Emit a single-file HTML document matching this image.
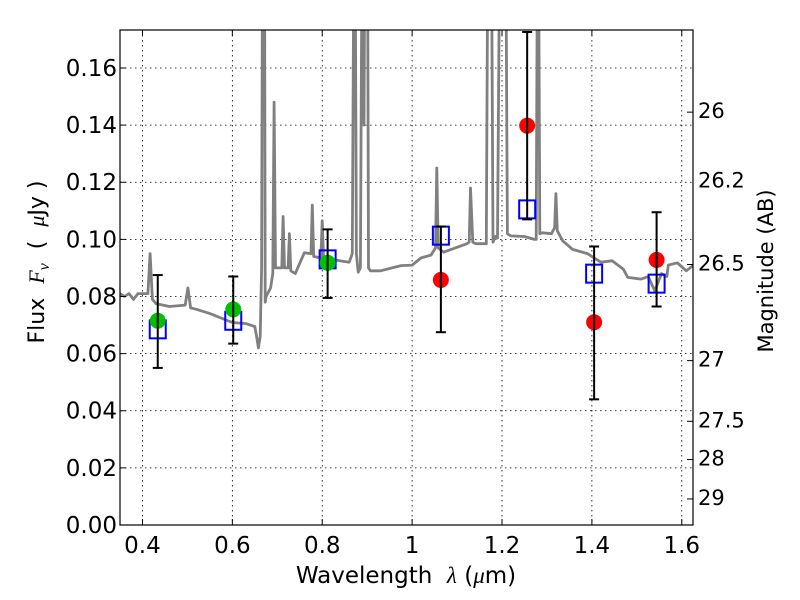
<!DOCTYPE html>
<html><head><meta charset="utf-8"><style>
body{margin:0;background:#fff}
svg{display:block;font-family:"DejaVu Sans","Liberation Sans",sans-serif}
</style></head><body>
<svg id="chart" width="800" height="600" xmlns="http://www.w3.org/2000/svg">
<defs><clipPath id="clip"><rect x="120" y="30" width="573" height="495"/></clipPath></defs>
<g id="grid"></g>
<g id="spec" clip-path="url(#clip)"></g>
<g id="marks"></g>
<rect x="120" y="30" width="573" height="495" fill="none" stroke="#000" stroke-width="1.2"/>
<g id="axes"></g>
<text x="406" y="583" font-size="23" text-anchor="middle" xml:space="preserve">Wavelength  <tspan font-family="Liberation Serif" font-style="italic">λ</tspan> (<tspan font-family="Liberation Serif" font-style="italic">μ</tspan>m)</text>
<text transform="translate(44,262) rotate(-90)" font-size="22" text-anchor="middle" xml:space="preserve">Flux  <tspan font-family="Liberation Serif" font-style="italic">F</tspan><tspan font-family="Liberation Serif" font-style="italic" font-size="16" dy="5">ν</tspan><tspan dy="-5">  (  </tspan><tspan font-family="Liberation Serif" font-style="italic">μ</tspan>Jy )</text>
<text transform="translate(773,271) rotate(-90)" font-size="21" text-anchor="middle">Magnitude (AB)</text>
</svg>
<script>
const xTicks=[0.4,0.6,0.8,1,1.2,1.4,1.6];
const xTickLabels=["0.4","0.6","0.8","1","1.2","1.4","1.6"];
const yTicks=[0,0.02,0.04,0.06,0.08,0.10,0.12,0.14,0.16];
const yTickLabels=["0.00","0.02","0.04","0.06","0.08","0.10","0.12","0.14","0.16"];
const magTicks=[26,26.5,27,27.5,28,29];
const magTickLabels=["26","26.2","26.5","27","27.5","28","29"];
const magLabelVals=[26,26.2,26.5,27,27.5,28,29];
const specWave=[0.35,0.36,0.37,0.38,0.39,0.40,0.412,0.417,0.422,0.43,0.46,0.495,0.501,0.507,0.52,0.55,0.60,0.63,0.65,0.654,0.658,0.662,0.665,0.668,0.671,0.673,0.675,0.685,0.69,0.693,0.696,0.70,0.71,0.713,0.716,0.724,0.727,0.73,0.74,0.76,0.775,0.778,0.781,0.797,0.80,0.803,0.82,0.86,0.867,0.872,0.876,0.88,0.885,0.89,0.893,0.896,0.90,0.903,0.907,0.93,0.975,1.0,1.02,1.042,1.052,1.055,1.058,1.07,1.122,1.127,1.13,1.135,1.142,1.165,1.17,1.175,1.18,1.185,1.19,1.197,1.202,1.207,1.212,1.22,1.25,1.272,1.276,1.28,1.284,1.29,1.31,1.317,1.32,1.323,1.335,1.357,1.39,1.42,1.445,1.47,1.48,1.51,1.525,1.54,1.555,1.567,1.57,1.59,1.61,1.625];
const specFlux=[0.081,0.080,0.081,0.079,0.081,0.081,0.081,0.095,0.079,0.0775,0.0765,0.077,0.083,0.076,0.0755,0.074,0.0709,0.0705,0.0695,0.066,0.062,0.066,0.09,0.25,0.25,0.078,0.080,0.083,0.088,0.148,0.09,0.090,0.090,0.108,0.09,0.09,0.102,0.089,0.088,0.0953,0.095,0.112,0.094,0.0935,0.1065,0.093,0.093,0.092,0.095,0.25,0.095,0.0885,0.09,0.25,0.14,0.25,0.25,0.09,0.089,0.089,0.0908,0.091,0.0935,0.0945,0.097,0.125,0.097,0.0955,0.0985,0.099,0.118,0.099,0.0985,0.0985,0.25,0.25,0.099,0.101,0.1005,0.25,0.25,0.25,0.102,0.1012,0.101,0.100,0.100,0.25,0.102,0.1023,0.102,0.104,0.116,0.103,0.0995,0.0965,0.095,0.092,0.0925,0.0896,0.0867,0.0861,0.087,0.082,0.088,0.087,0.091,0.0918,0.089,0.0908];
const filtWave=[0.434,0.602,0.812,1.064,1.256,1.405,1.544];
const modelFlux=[0.0685,0.0715,0.0930,0.1013,0.1105,0.0880,0.0845];
const obsFlux=[0.0715,0.0755,0.0918,0.0858,0.1398,0.0710,0.0928];
const errLow=[0.055,0.0635,0.0795,0.0675,0.107,0.044,0.0765];
const errHigh=[0.0875,0.087,0.1035,0.1045,0.175,0.0975,0.1095];
const obsColor=["#00c000","#00c000","#00c000","#ff0000","#ff0000","#ff0000","#ff0000"];

const X0=120,X1=693,Y0=525,Y1=30,XMIN=0.35,XMAX=1.625,YMAX=0.1733;
const sx=v=>X0+(v-XMIN)/(XMAX-XMIN)*(X1-X0);
const sy=v=>Y0-v/YMAX*(Y0-Y1);
const magToFlux=m=>Math.pow(10,(23.9-m)/2.5);
const NS="http://www.w3.org/2000/svg";
function mk(tag,attrs,parent){const e=document.createElementNS(NS,tag);for(const k in attrs)e.setAttribute(k,attrs[k]);parent.appendChild(e);return e;}
const grid=document.getElementById('grid'),axes=document.getElementById('axes'),spec=document.getElementById('spec'),marks=document.getElementById('marks');
xTicks.forEach((t,i)=>{
 const g=mk('line',{x1:sx(t),x2:sx(t),y1:Y1,y2:Y0,stroke:'#000','stroke-width':0.8,'stroke-dasharray':'1.5,3.5'},grid);
 
 
 mk('line',{x1:sx(t),x2:sx(t),y1:Y0,y2:Y0-6,stroke:'#000'},axes);
 mk('line',{x1:sx(t),x2:sx(t),y1:Y1,y2:Y1+6,stroke:'#000'},axes);
 const l=mk('text',{x:sx(t),y:Y0+28,'font-size':23,'text-anchor':'middle'},axes);
 l.textContent=xTickLabels[i];
 
 
});
yTicks.forEach((t,i)=>{
 const g=mk('line',{x1:X0,x2:X1,y1:sy(t),y2:sy(t),stroke:'#000','stroke-width':0.8,'stroke-dasharray':'1.5,3.5'},grid);
 
 
 mk('line',{x1:X0,x2:X0+6,y1:sy(t),y2:sy(t),stroke:'#000'},axes);
 const l=mk('text',{x:X0-3,y:sy(t)+8,'font-size':23,'text-anchor':'end'},axes);
 l.textContent=yTickLabels[i];
 
 
});
magTicks.forEach(m=>{const y=sy(magToFlux(m));mk('line',{x1:X1,x2:X1-6,y1:y,y2:y,stroke:'#000'},axes);});
magLabelVals.forEach((m,i)=>{
 const l=mk('text',{x:X1+5,y:sy(magToFlux(m))+6,'font-size':21},axes);
 l.textContent=magTickLabels[i];
 
 
});
const p=mk('polyline',{points:specWave.map((w,i)=>sx(w).toFixed(1)+','+sy(specFlux[i]).toFixed(1)).join(' '),fill:'none',stroke:'#808080','stroke-width':2.8,'stroke-linejoin':'round'},spec);


filtWave.forEach((w,i)=>{
 const x=sx(w);
 const r=mk('rect',{x:x-8,y:sy(modelFlux[i])-9,width:16,height:18,fill:'none',stroke:'#0000ff','stroke-width':2},marks);
 
 
 const c=mk('circle',{cx:x,cy:sy(obsFlux[i]),r:8,fill:obsColor[i]},marks);
 
 
 const eg=mk('g',{stroke:'#000','stroke-width':2},marks);
 
 
 const yl=sy(errLow[i]),yh=Math.max(sy(errHigh[i]),Y1+2);
 mk('line',{x1:x,x2:x,y1:yl,y2:yh},eg);
 mk('line',{x1:x-5,x2:x+5,y1:yl,y2:yl},eg);
 mk('line',{x1:x-5,x2:x+5,y1:yh,y2:yh},eg);
});
</script>
</body></html>
